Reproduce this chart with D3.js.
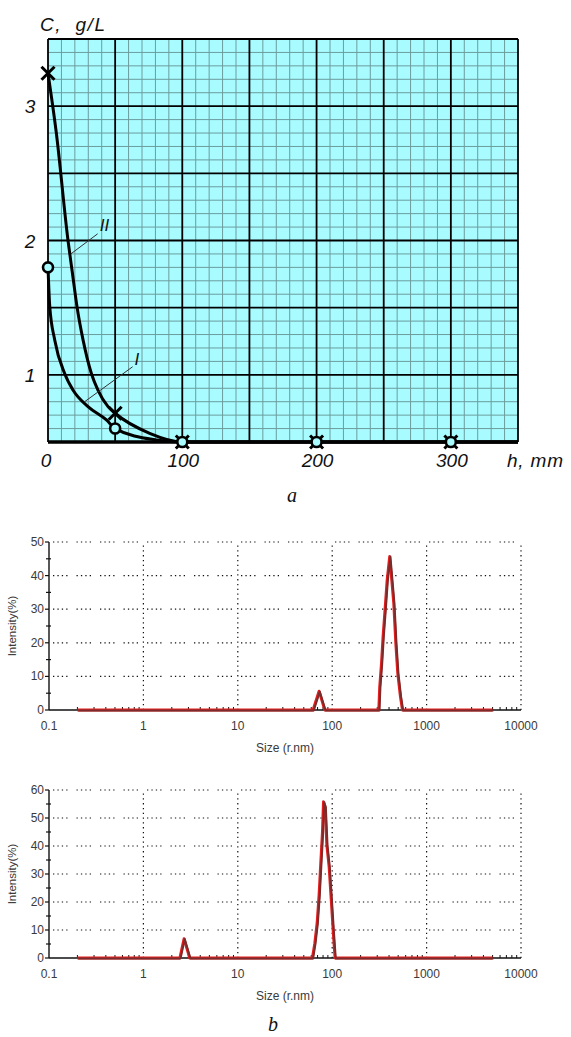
<!DOCTYPE html>
<html lang="en">
<head>
  <meta charset="UTF-8" />
  <title>Concentration profile and DLS size distributions</title>
  <script src="https://d3js.org/d3.v7.min.js"></script>
  <style>
    body { margin: 0; background: #fff; }
    svg { display: block; }
    .gost { font-family: 'Liberation Sans', Arial, sans-serif; font-style: italic; fill: #111; }
    .dls { font-family: 'Liberation Sans', Arial, sans-serif; fill: #3a3a3a; }
    .cap { font-family: 'Liberation Serif', 'Times New Roman', serif; font-style: italic; fill: #111; }
  </style>
</head>
<body>
  <svg id="fig" width="571" height="1037"></svg>

  <script>
    // ---- panel a: concentration C (g/L) vs height h (mm)
    const hTicks = [0, 100, 200, 300];
    const cTicks = [1, 2, 3];

    // curve I (circles)
    const curve1H = [0, 1.3, 5, 12.4, 18.6, 29.8, 43.5, 50, 80.7, 100, 200, 300, 350];
    const curve1C = [1.8, 1.51, 1.26, 1.01, 0.887, 0.763, 0.664, 0.6, 0.515, 0.5, 0.5, 0.5, 0.5];
    const marks1H = [0, 50, 100, 200, 300];
    const marks1C = [1.8, 0.6, 0.5, 0.5, 0.5];

    // curve II (crosses)
    const curve2H = [0, 6.2, 14.9, 18.2, 21.6, 26.1, 32.3, 37.2, 44.7, 50, 75.7, 100, 200, 300, 350];
    const curve2C = [3.245, 2.8, 2.0, 1.756, 1.507, 1.26, 1.01, 0.887, 0.763, 0.714, 0.565, 0.5, 0.5, 0.5, 0.5];
    const marks2H = [0, 50, 100, 200, 300];
    const marks2C = [3.245, 0.714, 0.5, 0.5, 0.5];

    // ---- panel b: DLS intensity distributions
    const sizeTicks = [0.1, 1, 10, 100, 1000, 10000];
    const int1Ticks = [0, 10, 20, 30, 40, 50];
    const int2Ticks = [0, 10, 20, 30, 40, 50, 60];

    const dls1Size = [0.2, 62.6, 72.5, 83.4, 311, 318, 332, 345, 362, 381, 406, 427, 448, 471, 494, 527, 554, 5000];
    const dls1Int  = [0, 0, 5.6, 0, 0, 6.9, 13.8, 21.8, 29.7, 38.6, 45.7, 38.6, 31.7, 19.8, 10.9, 4.0, 0, 0];

    const dls2Size = [0.2, 2.43, 2.69, 3.09, 61.6, 65.3, 69.1, 72.5, 75.5, 78.7, 80.7, 84, 87.5, 92.5, 98, 102, 107, 5000];
    const dls2Int  = [0, 0, 6.9, 0, 0, 5.3, 12.5, 22.6, 33.9, 45.1, 55.8, 54, 40.4, 32.7, 19.6, 10.1, 0, 0];

    const svg = d3.select("#fig");

    // ================= panel a =================
    function drawPanelA() {
      const x = d3.scaleLinear().domain([0, 350]).range([48, 518]);
      const y = d3.scaleLinear().domain([0.5, 3.5]).range([442, 39]);
      const g = svg.append("g");

      g.append("rect")
        .attr("x", x(0)).attr("y", y(3.5))
        .attr("width", x(350) - x(0)).attr("height", y(0.5) - y(3.5))
        .attr("fill", "#a8fcff");

      // minor grid
      const minorX = d3.range(0, 351, 10).filter(v => v % 50 !== 0);
      const minorY = d3.range(5, 36, 1).filter(v => v % 5 !== 0).map(v => v / 10);
      g.selectAll(".mx").data(minorX).enter().append("line")
        .attr("x1", d => x(d)).attr("x2", d => x(d))
        .attr("y1", y(0.5)).attr("y2", y(3.5))
        .attr("stroke", "#6c9c9e").attr("stroke-width", 1);
      g.selectAll(".my").data(minorY).enter().append("line")
        .attr("y1", d => y(d)).attr("y2", d => y(d))
        .attr("x1", x(0)).attr("x2", x(350))
        .attr("stroke", "#6c9c9e").attr("stroke-width", 1);

      // major grid
      const majorX = d3.range(0, 351, 50);
      const majorY = d3.range(5, 36, 5).map(v => v / 10);
      g.selectAll(".Mx").data(majorX).enter().append("line")
        .attr("x1", d => x(d)).attr("x2", d => x(d))
        .attr("y1", y(0.5)).attr("y2", y(3.5))
        .attr("stroke", "#000").attr("stroke-width", 1.8);
      g.selectAll(".My").data(majorY).enter().append("line")
        .attr("y1", d => y(d)).attr("y2", d => y(d))
        .attr("x1", x(0)).attr("x2", x(350))
        .attr("stroke", "#000").attr("stroke-width", 1.8);

      // thick h axis
      g.append("line")
        .attr("x1", x(0)).attr("x2", x(350))
        .attr("y1", y(0.5)).attr("y2", y(0.5))
        .attr("stroke", "#000").attr("stroke-width", 3.5);

      // curves
      const line = d3.line().x(d => x(d[0])).y(d => y(d[1])).curve(d3.curveMonotoneX);
      [[curve1H, curve1C], [curve2H, curve2C]].forEach(([hs, cs]) => {
        g.append("path")
          .datum(hs.map((h, i) => [h, cs[i]]))
          .attr("d", line)
          .attr("fill", "none")
          .attr("stroke", "#000")
          .attr("stroke-width", 3);
      });

      // leader lines and curve labels
      g.append("line")
        .attr("x1", x(37)).attr("y1", y(2.05)).attr("x2", x(17)).attr("y2", y(1.9))
        .attr("stroke", "#333").attr("stroke-width", 1);
      g.append("text").attr("class", "gost")
        .attr("x", x(38.5)).attr("y", y(2.07))
        .attr("font-size", 17).text("II");
      g.append("line")
        .attr("x1", x(63)).attr("y1", y(1.06)).attr("x2", x(27.3)).attr("y2", y(0.8))
        .attr("stroke", "#333").attr("stroke-width", 1);
      g.append("text").attr("class", "gost")
        .attr("x", x(64.5)).attr("y", y(1.07))
        .attr("font-size", 17).text("I");

      // cross markers (curve II)
      const s = 6.5;
      marks2H.forEach((h, i) => {
        const cx = x(h), cy = y(marks2C[i]);
        g.append("path")
          .attr("d", `M${cx - s},${cy - s}L${cx + s},${cy + s}M${cx - s},${cy + s}L${cx + s},${cy - s}`)
          .attr("stroke", "#000").attr("stroke-width", 3).attr("fill", "none");
      });
      // circle markers (curve I)
      marks1H.forEach((h, i) => {
        g.append("circle")
          .attr("cx", x(h)).attr("cy", y(marks1C[i])).attr("r", 5)
          .attr("fill", "#a8fcff").attr("stroke", "#000").attr("stroke-width", 2.6);
      });

      // tick labels
      g.selectAll(".hl").data(hTicks).enter().append("text")
        .attr("class", "gost")
        .attr("x", d => x(d) + (d === 0 ? -2 : 1)).attr("y", 467)
        .attr("text-anchor", "middle").attr("font-size", 19)
        .text(d => d);
      g.selectAll(".cl").data(cTicks).enter().append("text")
        .attr("class", "gost")
        .attr("x", 30).attr("y", d => y(d) + 7)
        .attr("text-anchor", "middle").attr("font-size", 19)
        .text(d => d);

      g.append("text").attr("class", "gost")
        .attr("x", 40).attr("y", 31).attr("font-size", 19)
        .attr("letter-spacing", 1.5)
        .text("C,  g/L").attr("xml:space", "preserve");
      g.append("text").attr("class", "gost")
        .attr("x", 507).attr("y", 467).attr("font-size", 19)
        .attr("letter-spacing", 0.8)
        .text("h, mm");

      svg.append("text").attr("class", "cap")
        .attr("x", 292).attr("y", 502).attr("text-anchor", "middle")
        .attr("font-size", 20).text("a");
    }

    // ================= panel b =================
    function drawDls(top, bottom, yMax, yTicks, sizes, ints, xTitleY) {
      const x = d3.scaleLog().domain([0.1, 10000]).range([49, 521]);
      const y = d3.scaleLinear().domain([0, yMax]).range([bottom, top]);
      const g = svg.append("g");

      // dotted grid
      g.selectAll(".gy").data(yTicks.filter(v => v > 0)).enter().append("line")
        .attr("x1", x(0.1) + 4).attr("x2", x(10000))
        .attr("y1", d => y(d)).attr("y2", d => y(d))
        .attr("stroke", "#111").attr("stroke-width", 1.2)
        .attr("stroke-dasharray", "1.3,3.1,1.3,3.1,1.3,3.1,1.3,9");
      g.selectAll(".gx").data(sizeTicks.filter(v => v > 0.1)).enter().append("line")
        .attr("x1", d => x(d)).attr("x2", d => x(d))
        .attr("y1", y(0)).attr("y2", y(yMax))
        .attr("stroke", "#111").attr("stroke-width", 1.2)
        .attr("stroke-dasharray", "1.3,3.5");

      // axes lines
      g.append("line")
        .attr("x1", x(0.1)).attr("x2", x(0.1)).attr("y1", y(0)).attr("y2", y(yMax))
        .attr("stroke", "#111").attr("stroke-width", 1.4);
      g.append("line")
        .attr("x1", x(0.1)).attr("x2", x(10000)).attr("y1", y(0)).attr("y2", y(0))
        .attr("stroke", "#111").attr("stroke-width", 1.4);

      // left ticks every 5
      const yMinor = d3.range(0, yMax + 1, 5);
      g.selectAll(".ty").data(yMinor).enter().append("line")
        .attr("x1", d => d % 10 === 0 ? x(0.1) - 4 : x(0.1) - 3)
        .attr("x2", d => d % 10 === 0 ? x(0.1) : x(0.1) + 2)
        .attr("y1", d => y(d)).attr("y2", d => y(d))
        .attr("stroke", "#111").attr("stroke-width", 1.2);

      // log minor ticks on the size axis
      const xMinor = [];
      sizeTicks.slice(0, -1).forEach(dec => {
        for (let k = 2; k <= 9; k++) xMinor.push(dec * k);
      });
      g.selectAll(".tx").data(xMinor).enter().append("line")
        .attr("x1", d => x(d)).attr("x2", d => x(d))
        .attr("y1", y(0)).attr("y2", y(0) - 3)
        .attr("stroke", "#111").attr("stroke-width", 1);

      // distribution line
      const pts = sizes.map((s, i) => [s, ints[i]]);
      const line = d3.line().x(d => x(d[0])).y(d => y(d[1]));
      g.append("path").datum(pts).attr("d", line)
        .attr("fill", "none").attr("stroke", "#e41e1e").attr("stroke-width", 2.8)
        .attr("stroke-linejoin", "round");
      g.append("path").datum(pts).attr("d", line)
        .attr("transform", "translate(0.8,0.4)")
        .attr("fill", "none").attr("stroke", "#7a2b2b").attr("stroke-width", 2)
        .attr("stroke-linejoin", "round");

      // tick labels
      g.selectAll(".yl").data(yTicks).enter().append("text")
        .attr("class", "dls")
        .attr("x", x(0.1) - 5).attr("y", d => y(d) + 4)
        .attr("text-anchor", "end").attr("font-size", 12)
        .text(d => d);
      g.selectAll(".xl").data(sizeTicks).enter().append("text")
        .attr("class", "dls")
        .attr("x", d => x(d)).attr("y", bottom + 20)
        .attr("text-anchor", "middle").attr("font-size", 12)
        .text(d => d);

      g.append("text").attr("class", "dls")
        .attr("transform", `translate(16,${(top + bottom) / 2}) rotate(-90)`)
        .attr("text-anchor", "middle").attr("font-size", 11.5)
        .text("Intensity(%)");
      g.append("text").attr("class", "dls")
        .attr("x", 285).attr("y", xTitleY)
        .attr("text-anchor", "middle").attr("font-size", 12)
        .text("Size (r.nm)");
    }

    drawPanelA();
    drawDls(542, 710, 50, int1Ticks, dls1Size, dls1Int, 752);
    drawDls(790, 958, 60, int2Ticks, dls2Size, dls2Int, 1000);

    svg.append("text").attr("class", "cap")
      .attr("x", 273).attr("y", 1031).attr("text-anchor", "middle")
      .attr("font-size", 20).text("b");
  </script>
</body>
</html>
